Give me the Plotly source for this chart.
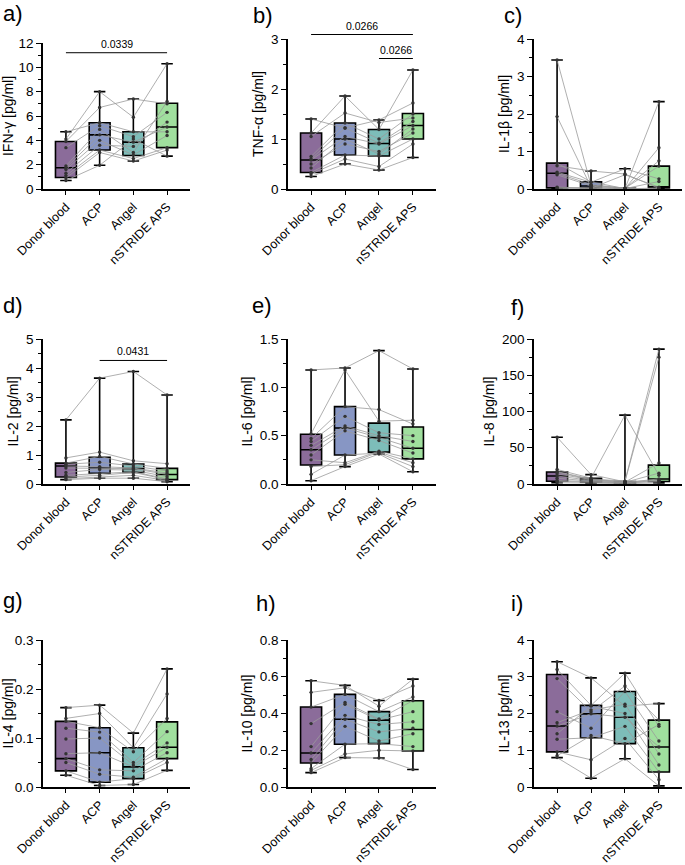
import plotly.graph_objects as go

CATS = ["Donor blood", "ACP", "Angel", "nSTRIDE APS"]
COLORS = ["#8b6c9a", "#8796c4", "#7dbdb9", "#a0df9e"]

# ---- a) IFN-gamma: one row per donor (Donor blood, ACP, Angel, nSTRIDE APS)
IFNG = [[4.7, 5.45, 4.7, 4.7], [4.1, 8.0, 5.9, 10.3], [3.9, 6.7, 7.4, 7.0],
        [3.4, 5.2, 4.3, 6.3], [1.9, 4.9, 3.0, 7.2], [1.75, 4.45, 3.85, 5.1],
        [1.6, 4.0, 2.8, 4.4], [1.3, 3.6, 3.5, 5.5], [1.1, 3.2, 2.5, 3.4],
        [0.9, 3.0, 2.3, 3.2], [0.7, 1.95, 4.1, 2.7]]
IFNG_MIN = [0.7, 1.95, 2.3, 2.7]
IFNG_Q1 = [0.95, 3.2, 2.75, 3.4]
IFNG_MED = [1.75, 4.45, 3.85, 5.1]
IFNG_Q3 = [3.9, 5.45, 4.7, 7.05]
IFNG_MAX = [4.7, 8.0, 7.4, 10.3]
IFNG_SIG = [(0, 3, 11.2, "0.0339")]

# ---- b) TNF-alpha
TNFA = [[1.40, 1.22, 1.38, 1.72], [1.12, 1.86, 1.19, 2.38], [1.05, 1.52, 1.33, 1.42],
        [0.65, 1.32, 1.0, 1.5], [0.6, 1.22, 0.92, 1.35], [0.58, 1.05, 0.9, 1.27],
        [0.5, 0.9, 0.75, 1.12], [0.42, 1.0, 0.7, 1.2], [0.33, 0.68, 0.66, 1.0],
        [0.3, 0.6, 0.45, 0.9], [0.25, 0.5, 0.38, 0.63]]
TNFA_MIN = [0.25, 0.50, 0.38, 0.63]
TNFA_Q1 = [0.33, 0.68, 0.66, 1.0]
TNFA_MED = [0.58, 1.0, 0.91, 1.27]
TNFA_Q3 = [1.12, 1.32, 1.19, 1.51]
TNFA_MAX = [1.40, 1.86, 1.38, 2.38]
TNFA_SIG = [(0, 3, 3.09, "0.0266"), (2, 3, 2.61, "0.0266")]

# ---- c) IL-1beta
IL1B = [[3.44, 0.1, 0.02, 0.75], [1.93, 0.05, 0.01, 2.33], [0.69, 0.19, 0.01, 1.1],
        [0.62, 0.48, 0.4, 0.02], [0.45, 0.18, 0.54, 0.27], [0.42, 0.12, 0.02, 0.61],
        [0.38, 0.08, 0.01, 0.2], [0.05, 0.02, 0.38, 0.05], [0.03, 0.03, 0.0, 0.03],
        [0.02, 0.01, 0.0, 0.01]]
IL1B_MIN = [0.02, 0.01, 0.0, 0.01]
IL1B_Q1 = [0.03, 0.03, 0.0, 0.03]
IL1B_MED = [0.42, 0.08, 0.01, 0.04]
IL1B_Q3 = [0.69, 0.19, 0.02, 0.61]
IL1B_MAX = [3.44, 0.48, 0.54, 2.33]
IL1B_SIG = []

# ---- d) IL-2
IL2 = [[2.21, 3.65, 3.88, 3.07], [0.9, 1.1, 0.8, 0.7], [0.72, 0.95, 0.69, 0.54],
       [0.68, 0.75, 0.62, 0.45], [0.62, 0.6, 0.55, 0.38], [0.55, 0.55, 0.53, 0.33],
       [0.4, 0.5, 0.48, 0.25], [0.3, 0.37, 0.42, 0.18], [0.24, 0.3, 0.4, 0.15],
       [0.18, 0.25, 0.3, 0.12], [0.15, 0.2, 0.2, 0.08]]
IL2_MIN = [0.15, 0.2, 0.2, 0.08]
IL2_Q1 = [0.24, 0.37, 0.40, 0.15]
IL2_MED = [0.62, 0.55, 0.53, 0.33]
IL2_Q3 = [0.72, 0.92, 0.69, 0.54]
IL2_MAX = [2.21, 3.65, 3.88, 3.07]
IL2_SIG = [(1, 3, 4.26, "0.0431")]

# ---- e) IL-6
IL6 = [[1.18, 1.2, 1.38, 1.19], [0.52, 1.18, 0.65, 0.66], [0.47, 0.8, 0.77, 0.62],
       [0.44, 0.7, 0.53, 0.5], [0.4, 0.6, 0.5, 0.44], [0.354, 0.58, 0.48, 0.37],
       [0.3, 0.55, 0.45, 0.32], [0.25, 0.22, 0.34, 0.26], [0.18, 0.2, 0.33, 0.22],
       [0.1, 0.3, 0.32, 0.18], [0.034, 0.18, 0.31, 0.127]]
IL6_MIN = [0.034, 0.18, 0.31, 0.127]
IL6_Q1 = [0.196, 0.30, 0.33, 0.26]
IL6_MED = [0.354, 0.58, 0.48, 0.37]
IL6_Q3 = [0.515, 0.80, 0.63, 0.59]
IL6_MAX = [1.18, 1.2, 1.38, 1.19]
IL6_SIG = []

# ---- f) IL-8
IL8 = [[64.5, 13, 3, 5], [20, 8, 95, 12], [17, 7, 4, 186], [16.5, 6, 3.5, 175],
       [14, 6, 2.5, 29], [11, 5, 2.3, 15], [8, 4, 2, 7], [5, 3, 1.5, 5],
       [3.7, 2, 1.3, 3.5], [1.8, 1, 0.5, 1.5]]
IL8_MIN = [1.8, 1, 0.5, 1.5]
IL8_Q1 = [3.7, 3, 1.3, 3.5]
IL8_MED = [11, 6, 2.3, 7]
IL8_Q3 = [16.5, 8, 3.5, 26]
IL8_MAX = [64.5, 13, 95, 186]
IL8_SIG = []

# ---- g) IL-4
IL4 = [[0.162, 0.167, 0.11, 0.241], [0.14, 0.15, 0.08, 0.19], [0.134, 0.121, 0.072, 0.14],
       [0.12, 0.112, 0.05, 0.113], [0.098, 0.1, 0.045, 0.09], [0.068, 0.07, 0.041, 0.081],
       [0.058, 0.035, 0.033, 0.07], [0.05, 0.026, 0.02, 0.058], [0.033, 0.01, 0.017, 0.05],
       [0.024, 0.003, 0.005, 0.034]]
IL4_MIN = [0.024, 0.003, 0.005, 0.034]
IL4_Q1 = [0.033, 0.010, 0.017, 0.058]
IL4_MED = [0.058, 0.07, 0.041, 0.081]
IL4_Q3 = [0.134, 0.121, 0.08, 0.133]
IL4_MAX = [0.162, 0.167, 0.11, 0.241]
IL4_SIG = []

# ---- h) IL-10
IL10 = [[0.578, 0.553, 0.44, 0.587], [0.515, 0.54, 0.471, 0.55], [0.435, 0.504, 0.41, 0.49],
        [0.345, 0.46, 0.37, 0.47], [0.22, 0.45, 0.364, 0.41], [0.185, 0.39, 0.34, 0.355],
        [0.15, 0.369, 0.3, 0.32], [0.131, 0.33, 0.25, 0.29], [0.1, 0.233, 0.236, 0.22],
        [0.09, 0.18, 0.2, 0.196], [0.078, 0.16, 0.158, 0.095]]
IL10_MIN = [0.078, 0.16, 0.158, 0.095]
IL10_Q1 = [0.131, 0.233, 0.236, 0.196]
IL10_MED = [0.185, 0.369, 0.364, 0.313]
IL10_Q3 = [0.435, 0.504, 0.41, 0.469]
IL10_MAX = [0.578, 0.553, 0.471, 0.587]
IL10_SIG = []

# ---- i) IL-13
IL13 = [[3.41, 2.97, 2.2, 2.27], [3.2, 2.22, 3.1, 1.65], [2.95, 2.05, 2.75, 1.82],
        [2.05, 1.6, 2.6, 1.25], [1.75, 2.1, 2.25, 0.9], [1.66, 1.99, 1.9, 1.09],
        [1.45, 2.2, 2.0, 0.6], [1.3, 1.34, 1.65, 0.41], [0.955, 0.74, 1.32, 0.2],
        [0.8, 0.24, 0.77, 0.03], [0.85, 1.4, 1.18, 1.7]]
IL13_MIN = [0.80, 0.24, 0.77, 0.03]
IL13_Q1 = [0.955, 1.34, 1.18, 0.41]
IL13_MED = [1.66, 1.99, 1.90, 1.09]
IL13_Q3 = [3.06, 2.22, 2.60, 1.82]
IL13_MAX = [3.41, 2.97, 3.10, 2.27]
IL13_SIG = []

TITLES = ["IFN-γ [pg/ml]", "TNF-α [pg/ml]", "IL-1β [pg/ml]",
          "IL-2 [pg/ml]", "IL-6 [pg/ml]", "IL-8 [pg/ml]",
          "IL-4 [pg/ml]", "IL-10 [pg/ml]", "IL-13 [pg/ml]"]
LETTERS = ["a)", "b)", "c)", "d)", "e)", "f)", "g)", "h)", "i)"]
YMAX = [12, 3, 4, 5, 1.5, 200, 0.3, 0.8, 4]
DTICK = [2, 1, 1, 1, 0.5, 50, 0.1, 0.2, 1]
TICKFMT = ["d", "d", "d", "d", ".1f", "d", ".1f", ".1f", "d"]

DATA = [
    (IFNG, IFNG_MIN, IFNG_Q1, IFNG_MED, IFNG_Q3, IFNG_MAX, IFNG_SIG),
    (TNFA, TNFA_MIN, TNFA_Q1, TNFA_MED, TNFA_Q3, TNFA_MAX, TNFA_SIG),
    (IL1B, IL1B_MIN, IL1B_Q1, IL1B_MED, IL1B_Q3, IL1B_MAX, IL1B_SIG),
    (IL2, IL2_MIN, IL2_Q1, IL2_MED, IL2_Q3, IL2_MAX, IL2_SIG),
    (IL6, IL6_MIN, IL6_Q1, IL6_MED, IL6_Q3, IL6_MAX, IL6_SIG),
    (IL8, IL8_MIN, IL8_Q1, IL8_MED, IL8_Q3, IL8_MAX, IL8_SIG),
    (IL4, IL4_MIN, IL4_Q1, IL4_MED, IL4_Q3, IL4_MAX, IL4_SIG),
    (IL10, IL10_MIN, IL10_Q1, IL10_MED, IL10_Q3, IL10_MAX, IL10_SIG),
    (IL13, IL13_MIN, IL13_Q1, IL13_MED, IL13_Q3, IL13_MAX, IL13_SIG),
]

# ---- layout geometry (pixels)
W, H = 685, 865
COLS_PX = [(43, 190), (288, 436), (534, 682)]
ROWS_PX = [[(43, 189), (39, 189), (39, 189)],
           [(339, 484), (339, 484), (339, 484)],
           [(640, 787), (640, 787), (640, 787)]]
LETTER_PX = [(1, 14), (251, 15), (502, 15), (1, 305), (250, 306), (509, 307),
             (1, 600), (254, 603), (509, 603)]
XR = [-0.68, 3.68]
FONT = "Arial, Liberation Sans, sans-serif"

fig = go.Figure()
annotations = []
shapes = []

for p in range(9):
    r, c = divmod(p, 3)
    vals, lo, q1, med, q3, hi, sig = DATA[p]
    ax = "" if p == 0 else str(p + 1)
    xa, ya = "x" + ax, "y" + ax
    # boxes
    for g in range(4):
        fig.add_trace(go.Box(
            x=[CATS[g]], q1=[q1[g]], median=[med[g]], q3=[q3[g]],
            lowerfence=[lo[g]], upperfence=[hi[g]],
            fillcolor=COLORS[g], line=dict(color="black", width=1.6),
            width=0.62, whiskerwidth=0.55, boxpoints=False,
            xaxis=xa, yaxis=ya, showlegend=False, hoverinfo="skip"))
    # paired donor lines
    lx, ly = [], []
    for row in vals:
        lx += CATS + [None]
        ly += row + [None]
    fig.add_trace(go.Scatter(
        x=lx, y=ly, mode="lines", line=dict(color="#9a9a9a", width=0.8),
        xaxis=xa, yaxis=ya, showlegend=False, hoverinfo="skip", connectgaps=False))
    px_, py_ = [], []
    for row in vals:
        px_ += CATS
        py_ += row
    fig.add_trace(go.Scatter(
        x=px_, y=py_, mode="markers", marker=dict(color="#333333", size=3.4),
        xaxis=xa, yaxis=ya, showlegend=False, hoverinfo="skip"))

    x0, x1 = COLS_PX[c]
    y0, y1 = ROWS_PX[r][c]
    fig.layout["xaxis" + ax] = dict(
        domain=[x0 / W, x1 / W], anchor=ya, type="category",
        categoryorder="array", categoryarray=CATS, range=XR,
        showline=True, linecolor="black", linewidth=1.6,
        ticks="outside", ticklen=4, tickwidth=1.4, tickcolor="black",
        tickangle=-45, tickfont=dict(family=FONT, size=12.5, color="black"),
        showgrid=False, zeroline=False, fixedrange=True, automargin=False)
    fig.layout["yaxis" + ax] = dict(
        domain=[1 - y1 / H, 1 - y0 / H], anchor=xa,
        range=[0, YMAX[p]], tickmode="linear", tick0=0, dtick=DTICK[p],
        tickformat=TICKFMT[p],
        minor=dict(dtick=DTICK[p] / 2, ticks="outside", ticklen=3,
                   tickwidth=1.2, tickcolor="black"),
        showline=True, linecolor="black", linewidth=1.6,
        ticks="outside", ticklen=5, tickwidth=1.4, tickcolor="black",
        tickfont=dict(family=FONT, size=13.5, color="black"),
        title=dict(text=TITLES[p], font=dict(family=FONT, size=14, color="black"),
                   standoff=4),
        showgrid=False, zeroline=False, fixedrange=True, automargin=False)

    # significance bars
    span = XR[1] - XR[0]
    for (i0, i1, yv, txt) in sig:
        d0 = (i0 - XR[0]) / span
        d1 = (i1 - XR[0]) / span
        yd = yv / YMAX[p]
        shapes.append(dict(type="line", xref=xa + " domain", yref=ya + " domain",
                           x0=d0, x1=d1, y0=yd, y1=yd,
                           line=dict(color="black", width=1)))
        annotations.append(dict(text=txt, xref=xa + " domain", yref=ya + " domain",
                                x=(d0 + d1) / 2, y=yd, yanchor="bottom", xanchor="center",
                                yshift=1, showarrow=False,
                                font=dict(family=FONT, size=10.5, color="black")))

    lxp, lyp = LETTER_PX[p]
    annotations.append(dict(text=LETTERS[p], xref="paper", yref="paper",
                            x=lxp / W, y=1 - lyp / H, xanchor="left", yanchor="middle",
                            showarrow=False,
                            font=dict(family=FONT, size=22, color="black")))

fig.update_layout(
    width=W, height=H, margin=dict(l=0, r=0, t=0, b=0, autoexpand=False),
    paper_bgcolor="white", plot_bgcolor="white",
    showlegend=False, boxmode="overlay",
    annotations=annotations, shapes=shapes,
    font=dict(family=FONT, color="black"))

fig.write_html("out.html", config={"displayModeBar": False},
               post_script="document.body.style.margin='0';"
                           "document.body.style.overflow='hidden';")
